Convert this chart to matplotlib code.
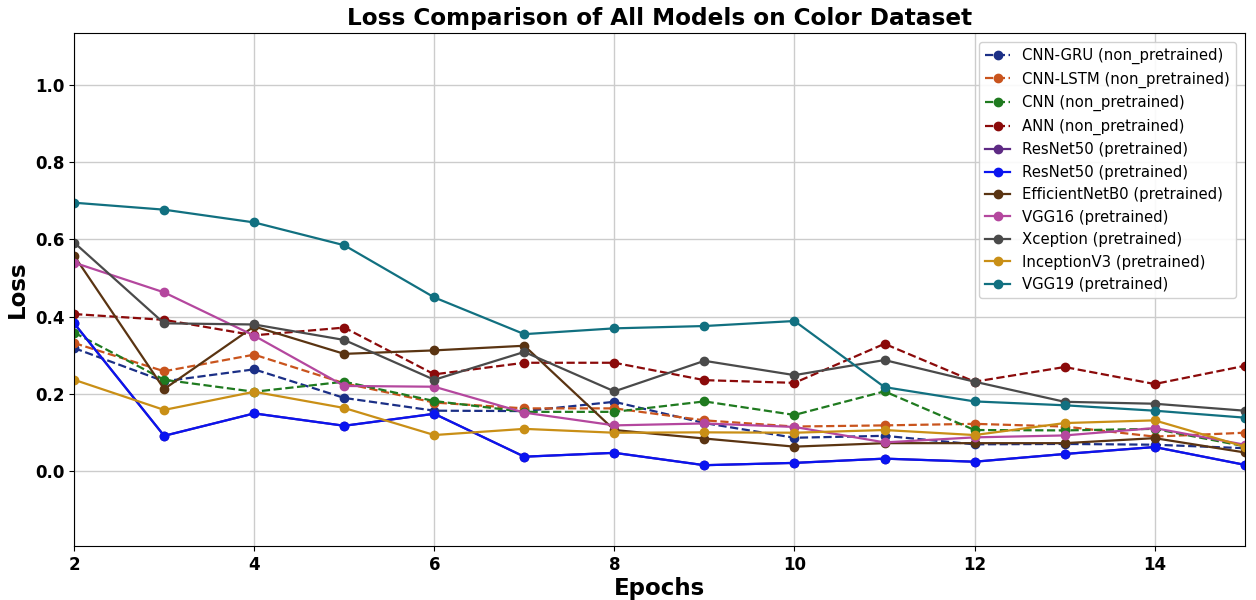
import matplotlib.pyplot as plt

epochs = list(range(2, 16))

cnn_gru = [0.319, 0.233, 0.264, 0.190, 0.157, 0.156, 0.180, 0.125, 0.087, 0.092, 0.070, 0.071, 0.069, 0.060]
cnn_lstm = [0.332, 0.259, 0.302, 0.228, 0.178, 0.163, 0.163, 0.132, 0.116, 0.119, 0.123, 0.116, 0.090, 0.100]
cnn = [0.359, 0.237, 0.206, 0.232, 0.182, 0.154, 0.154, 0.181, 0.146, 0.207, 0.107, 0.106, 0.110, 0.065]
ann = [0.407, 0.392, 0.352, 0.372, 0.251, 0.281, 0.281, 0.236, 0.229, 0.330, 0.232, 0.270, 0.226, 0.273]
resnet50_a = [0.383, 0.092, 0.150, 0.118, 0.149, 0.038, 0.048, 0.016, 0.022, 0.033, 0.025, 0.045, 0.063, 0.017]
resnet50_b = [0.383, 0.092, 0.150, 0.118, 0.149, 0.038, 0.048, 0.016, 0.022, 0.033, 0.025, 0.045, 0.063, 0.017]
efficientnet = [0.558, 0.213, 0.375, 0.304, 0.313, 0.325, 0.107, 0.085, 0.064, 0.073, 0.073, 0.073, 0.086, 0.049]
vgg16 = [0.540, 0.463, 0.351, 0.221, 0.219, 0.152, 0.119, 0.124, 0.115, 0.075, 0.088, 0.093, 0.112, 0.069]
xception = [0.592, 0.383, 0.380, 0.340, 0.237, 0.309, 0.207, 0.286, 0.249, 0.288, 0.232, 0.180, 0.175, 0.157]
inception = [0.237, 0.159, 0.206, 0.164, 0.094, 0.110, 0.100, 0.101, 0.100, 0.107, 0.094, 0.125, 0.132, 0.064]
vgg19 = [0.695, 0.677, 0.644, 0.585, 0.450, 0.355, 0.370, 0.376, 0.389, 0.218, 0.181, 0.171, 0.157, 0.139]

series = [
    ("CNN-GRU (non_pretrained)", cnn_gru, "#1b2f86", "--"),
    ("CNN-LSTM (non_pretrained)", cnn_lstm, "#c9541d", "--"),
    ("CNN (non_pretrained)", cnn, "#1f7a1f", "--"),
    ("ANN (non_pretrained)", ann, "#8b0a0a", "--"),
    ("ResNet50 (pretrained)", resnet50_a, "#5e2a84", "-"),
    ("ResNet50 (pretrained)", resnet50_b, "#0a14f0", "-"),
    ("EfficientNetB0 (pretrained)", efficientnet, "#5a3412", "-"),
    ("VGG16 (pretrained)", vgg16, "#b4479e", "-"),
    ("Xception (pretrained)", xception, "#4a4a4a", "-"),
    ("InceptionV3 (pretrained)", inception, "#c98f16", "-"),
    ("VGG19 (pretrained)", vgg19, "#117080", "-"),
]

fig, ax = plt.subplots(figsize=(12.56, 6), dpi=100)
fig.subplots_adjust(left=0.059, right=0.991, top=0.945, bottom=0.09)

for label, vals, color, ls in series:
    ax.plot(epochs, vals, linestyle=ls, marker="o", markersize=6,
            linewidth=1.6, color=color, label=label)

ax.set_xlim(2, 15)
ax.set_ylim(-0.193, 1.134)
ax.set_xticks([2, 4, 6, 8, 10, 12, 14])
ax.set_yticks([0.0, 0.2, 0.4, 0.6, 0.8, 1.0])
ax.grid(True, color="#cccccc", linewidth=1)

ax.set_title("Loss Comparison of All Models on Color Dataset", fontsize=16.7, fontweight="bold")
ax.set_xlabel("Epochs", fontsize=16.5, fontweight="bold", labelpad=2)
ax.set_ylabel("Loss", fontsize=16.5, fontweight="bold")
for lbl in ax.get_xticklabels() + ax.get_yticklabels():
    lbl.set_fontweight("bold")
    lbl.set_fontsize(12)

ax.legend(loc="upper right", fontsize=10.7, framealpha=0.9, handlelength=1.7,
          borderaxespad=0.6)

plt.savefig("out.png", dpi=100)
